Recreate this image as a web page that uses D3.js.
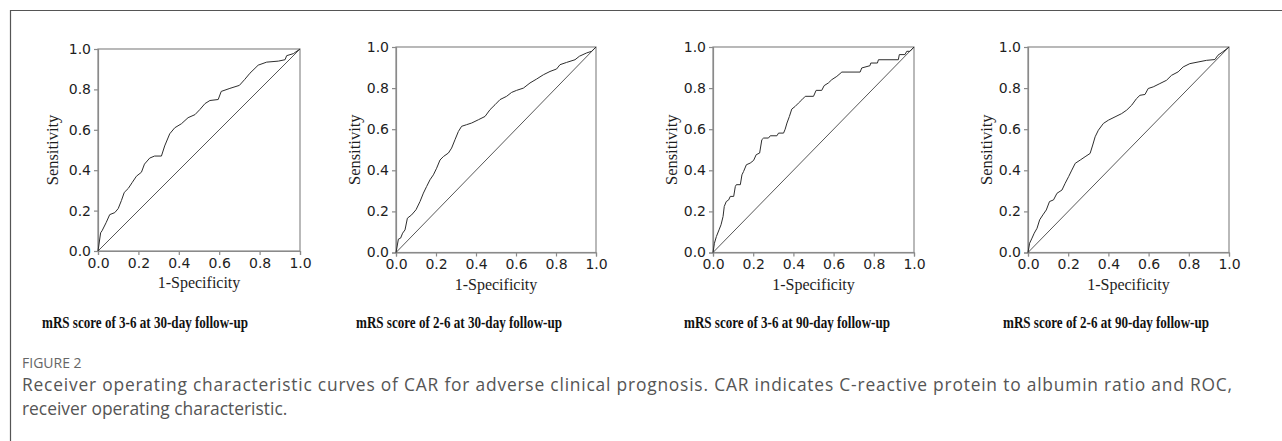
<!DOCTYPE html>
<html><head><meta charset="utf-8">
<script src="https://cdn.jsdelivr.net/npm/d3@7"></script>
<style>
html,body{margin:0;padding:0;background:#fff;}
svg{display:block;}
</style></head>
<body>
<script>
// ---- data ----
const panelTitles = [
  "mRS score of 3-6 at 30-day follow-up",
  "mRS score of 2-6 at 30-day follow-up",
  "mRS score of 3-6 at 90-day follow-up",
  "mRS score of 2-6 at 90-day follow-up"
];
const tickValues = [0, 0.2, 0.4, 0.6, 0.8, 1.0];
const xLabel = "1-Specificity";
const yLabel = "Sensitivity";
const figureLabel = "FIGURE 2";
const captionLines = [
  "Receiver operating characteristic curves of CAR for adverse clinical prognosis. CAR indicates C-reactive protein to albumin ratio and ROC,",
  "receiver operating characteristic."
];

// 1-Specificity / Sensitivity
const roc1X = [0,0.013,0.02,0.04,0.058,0.083,0.1,0.116,0.13,0.15,0.17,0.19,0.215,0.23,0.256,0.28,0.314,0.33,0.355,0.38,0.413,0.446,0.48,0.504,0.53,0.554,0.595,0.61,0.653,0.70,0.727,0.752,0.793,0.835,0.893,0.926,0.934,0.967,1];
const roc1Y = [0,0.09,0.10,0.14,0.18,0.19,0.21,0.25,0.29,0.31,0.34,0.37,0.39,0.43,0.46,0.47,0.47,0.52,0.58,0.61,0.63,0.66,0.675,0.70,0.73,0.745,0.75,0.79,0.805,0.82,0.85,0.88,0.92,0.935,0.94,0.947,0.967,0.977,1];

const roc2X = [0,0.012,0.023,0.033,0.045,0.057,0.078,0.1,0.12,0.137,0.153,0.17,0.187,0.203,0.22,0.237,0.262,0.278,0.295,0.312,0.328,0.353,0.378,0.412,0.445,0.47,0.495,0.52,0.553,0.578,0.603,0.637,0.67,0.703,0.737,0.77,0.803,0.82,0.853,0.895,0.917,0.953,0.978,1];
const roc2Y = [0,0.065,0.07,0.094,0.11,0.167,0.183,0.208,0.248,0.289,0.321,0.354,0.378,0.41,0.45,0.467,0.484,0.508,0.549,0.589,0.614,0.622,0.63,0.646,0.662,0.695,0.719,0.744,0.76,0.779,0.789,0.80,0.825,0.844,0.865,0.881,0.893,0.914,0.925,0.938,0.955,0.971,0.979,1];

const roc3X = [0,0.007,0.017,0.03,0.04,0.05,0.056,0.066,0.078,0.086,0.103,0.111,0.116,0.136,0.144,0.152,0.166,0.185,0.202,0.215,0.232,0.243,0.252,0.276,0.285,0.318,0.326,0.351,0.359,0.368,0.38,0.392,0.409,0.425,0.442,0.459,0.5,0.513,0.541,0.553,0.574,0.591,0.616,0.641,0.732,0.74,0.781,0.785,0.818,0.823,0.922,0.927,0.955,0.964,0.98,1];
const roc3Y = [0,0.045,0.078,0.11,0.135,0.175,0.224,0.248,0.256,0.273,0.273,0.321,0.33,0.33,0.378,0.394,0.427,0.435,0.448,0.476,0.484,0.549,0.557,0.557,0.568,0.568,0.581,0.581,0.60,0.63,0.662,0.698,0.711,0.727,0.743,0.76,0.76,0.789,0.789,0.812,0.825,0.841,0.857,0.878,0.878,0.898,0.909,0.922,0.922,0.938,0.938,0.963,0.963,0.979,0.979,1];

const roc4X = [0,0.008,0.02,0.031,0.045,0.058,0.074,0.091,0.107,0.127,0.144,0.169,0.185,0.202,0.218,0.235,0.26,0.284,0.309,0.322,0.334,0.35,0.375,0.4,0.433,0.466,0.491,0.516,0.54,0.557,0.582,0.598,0.623,0.656,0.689,0.714,0.747,0.772,0.805,0.846,0.888,0.93,0.945,0.97,1];
const roc4Y = [0,0.045,0.07,0.094,0.118,0.159,0.183,0.207,0.248,0.256,0.288,0.304,0.337,0.369,0.401,0.434,0.45,0.466,0.482,0.523,0.563,0.595,0.628,0.644,0.66,0.676,0.693,0.717,0.749,0.765,0.769,0.798,0.806,0.822,0.838,0.862,0.879,0.903,0.919,0.927,0.935,0.939,0.96,0.977,1];

const rocXs = [roc1X, roc2X, roc3X, roc4X];
const rocYs = [roc1Y, roc2Y, roc3Y, roc4Y];

// ---- layout ----
const W = 1282, H = 441;
const boxes = [
  {l: 98,  r: 300,  t: 49, b: 251,   yl: 44, title: 145},
  {l: 396, r: 596,  t: 47, b: 252.5, yl: 40, title: 459},
  {l: 713, r: 914,  t: 47, b: 252.5, yl: 40, title: 787},
  {l: 1028,r: 1229, t: 47, b: 252.5, yl: 40, title: 1106}
];

const svg = d3.select("body").append("svg").attr("width", W).attr("height", H);

// outer frame (top + left)
svg.append("path").attr("d", `M10.5,${H} V10.5 H${W}`).attr("fill","none")
  .attr("stroke","#555").attr("stroke-width",1.2);

boxes.forEach((bx, i) => {
  const x = d3.scaleLinear().domain([0,1]).range([bx.l, bx.r]);
  const y = d3.scaleLinear().domain([0,1]).range([bx.b, bx.t]);
  const g = svg.append("g");

  g.append("rect").attr("x", bx.l).attr("y", bx.t).attr("width", bx.r-bx.l).attr("height", bx.b-bx.t)
    .attr("fill","none").attr("stroke","#8a8a8a").attr("stroke-width",1.2);

  const xa = g.append("g").attr("transform",`translate(0,${bx.b})`)
    .call(d3.axisBottom(x).tickValues(tickValues).tickFormat(d3.format(".1f")).tickSize(4).tickPadding(3));
  const ya = g.append("g").attr("transform",`translate(${bx.l},0)`)
    .call(d3.axisLeft(y).tickValues(tickValues).tickFormat(d3.format(".1f")).tickSize(4).tickPadding(3));
  [xa, ya].forEach(a => {
    a.select(".domain").attr("stroke","#8a8a8a").attr("stroke-width",1.2);
    a.selectAll(".tick line").attr("stroke","#8a8a8a").attr("stroke-width",1.2);
    a.selectAll(".tick text").attr("font-family","DejaVu Sans").attr("font-size",14).attr("fill","#1e1e1e");
  });

  g.append("line").attr("x1", x(0)).attr("y1", y(0)).attr("x2", x(1)).attr("y2", y(1))
    .attr("stroke","#444").attr("stroke-width",0.9);

  const pts = rocXs[i].map((v, k) => [v, rocYs[i][k]]);
  g.append("path").datum(pts)
    .attr("d", d3.line().x(d => x(d[0])).y(d => y(d[1])))
    .attr("fill","none").attr("stroke","#2e2e2e").attr("stroke-width",1);

  g.append("text").attr("x", (bx.l+bx.r)/2).attr("y", bx.b + 37)
    .attr("text-anchor","middle").attr("font-family","Liberation Serif").attr("font-size",16)
    .attr("fill","#1e1e1e").text(xLabel);
  g.append("text").attr("transform",`translate(${bx.l - bx.yl},${(bx.t+bx.b)/2}) rotate(-90)`)
    .attr("text-anchor","middle").attr("dominant-baseline","middle")
    .attr("font-family","Liberation Serif").attr("font-size",16.5).attr("fill","#1e1e1e").text(yLabel);

  g.append("text").attr("x", bx.title).attr("y", 327.5)
    .attr("text-anchor","middle").attr("font-family","Liberation Serif").attr("font-weight","bold")
    .attr("font-size",17).attr("fill","#111")
    .attr("textLength", 206).attr("lengthAdjust","spacingAndGlyphs")
    .text(panelTitles[i]);
});

svg.append("text").attr("x", 22).attr("y", 368).attr("font-family","Open Sans")
  .attr("font-size",14).attr("fill","#666").text(figureLabel);
captionLines.forEach((t, k) => {
  const tx = svg.append("text").attr("x", 22).attr("y", 391 + k*24).attr("font-family","Open Sans")
    .attr("font-size",17.4).attr("fill","#555").text(t);
  if (k === 0) tx.attr("textLength", 1210).attr("lengthAdjust","spacing");
});
</script>
</body></html>
